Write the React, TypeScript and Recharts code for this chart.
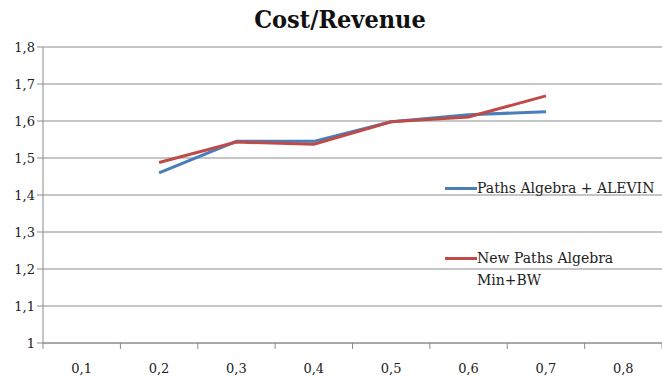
import React from "react";
import { LineChart, Line, XAxis, YAxis, CartesianGrid } from "recharts";

const categories = ["0,1", "0,2", "0,3", "0,4", "0,5", "0,6", "0,7", "0,8"];
const alevin = [null, 1.46, 1.545, 1.545, 1.598, 1.617, 1.625, null];
const newPaths = [null, 1.488, 1.543, 1.537, 1.598, 1.611, 1.668, null];
const yTicks = [1, 1.1, 1.2, 1.3, 1.4, 1.5, 1.6, 1.7, 1.8];

const BLUE = "#4a7ebb";
const RED = "#be4b48";
const GRID = "#8c8c8c";
const FONT = "DejaVu Serif, serif";
const TITLE_FONT = "DejaVu Serif Condensed, DejaVu Serif, serif";

const data = categories.map((c, i) => ({ x: c, alevin: alevin[i], newPaths: newPaths[i] }));

const fmtY = (v: number) => (v === 1 ? "1" : v.toFixed(1).replace(".", ","));

// Excel-style category ticks: labels centred, tick marks on band edges
const XTick = (props: any) => {
  const { x, y, payload, index, visibleTicksCount } = props;
  const half = payload.offset || 38.7;
  const last = index === visibleTicksCount - 1;
  return (
    <g>
      <line x1={x - half} y1={y - 8} x2={x - half} y2={y - 2} stroke={GRID} />
      {last && <line x1={x + half} y1={y - 8} x2={x + half} y2={y - 2} stroke={GRID} />}
      <text x={x} y={y + 22} textAnchor="middle" fontFamily={FONT} fontSize={13} fill="#222">
        {payload.value}
      </text>
    </g>
  );
};

const LegendRow = ({ color, lines, top }: { color: string; lines: string[]; top: number }) => (
  <div style={{ position: "absolute", left: 445, top, fontFamily: FONT, fontSize: 14, color: "#222", lineHeight: "22px" }}>
    {lines.map((t, i) => (
      <div key={i} style={{ display: "flex", alignItems: "center", whiteSpace: "nowrap" }}>
        <span style={{ display: "inline-block", width: 32, height: 3, background: i === 0 ? color : "transparent" }} />
        <span>{t}</span>
      </div>
    ))}
  </div>
);

export default function App() {
  return (
    <div style={{ position: "absolute", left: 0, top: 0, width: 662, height: 378, background: "#fff" }}>
      <div
        style={{
          position: "absolute",
          left: 0,
          width: 680,
          top: 5,
          textAlign: "center",
          fontFamily: TITLE_FONT,
          fontSize: 25,
          fontWeight: "bold",
          color: "#111",
        }}
      >
        Cost/Revenue
      </div>
      <LineChart width={662} height={378} data={data} margin={{ top: 47, right: 0, bottom: 0, left: 0 }}>
        <CartesianGrid horizontal vertical={false} stroke={GRID} />
        <XAxis
          dataKey="x"
          scale="band"
          height={35}
          axisLine={{ stroke: GRID }}
          tickLine={false}
          tick={<XTick />}
          interval={0}
        />
        <YAxis
          width={43}
          domain={[1, 1.8]}
          ticks={yTicks}
          tickFormatter={fmtY}
          axisLine={{ stroke: GRID }}
          tickLine={{ stroke: GRID }}
          tickSize={6}
          tick={{ fontFamily: FONT, fontSize: 13, fill: "#222" }}
        />
        <Line dataKey="alevin" stroke={BLUE} strokeWidth={3} dot={false} isAnimationActive={false} />
        <Line dataKey="newPaths" stroke={RED} strokeWidth={3} dot={false} isAnimationActive={false} />
      </LineChart>
      <LegendRow color={BLUE} lines={["Paths Algebra + ALEVIN"]} top={177} />
      <LegendRow color={RED} lines={["New Paths Algebra", "Min+BW"]} top={247} />
    </div>
  );
}
